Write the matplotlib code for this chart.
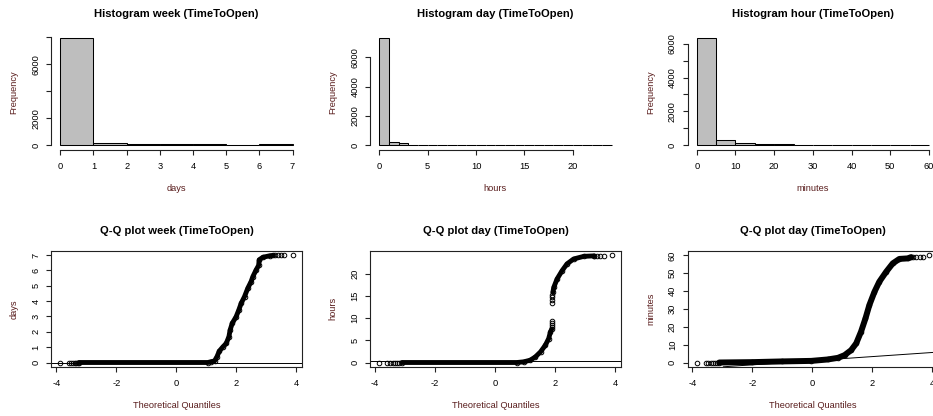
import numpy as np
import matplotlib
matplotlib.use("Agg")
import matplotlib.pyplot as plt

plt.rcParams["font.family"] = ["Liberation Sans", "DejaVu Sans"]
plt.rcParams["axes.unicode_minus"] = False

# ---------------- histogram data ----------------
week_breaks = [0, 1, 2, 3, 4, 5, 6, 7]
week_counts = [7950, 150, 125, 75, 75, 0, 70]

day_breaks = list(range(0, 25))
day_counts = [7300, 200, 140, 50, 50, 50, 6, 4, 3, 0, 0, 0,
              0, 2, 4, 6, 8, 50, 50, 50, 8, 8, 50, 50]

hour_breaks = list(range(0, 65, 5))
hour_counts = [6330, 290, 155, 100, 95, 40, 35, 35, 30, 30, 30, 30]

# ---------------- Q-Q data (theoretical quantile, sample value) ----------------
week_q = [-3.25, 1.05, 1.15, 1.27, 1.35, 1.43, 1.55, 1.66, 1.75, 1.79, 1.86,
          1.99, 2.08, 2.16, 2.27, 2.38, 2.49, 2.55, 2.66, 2.74, 2.76, 2.88, 3.11, 3.22]
week_v = [0.0, 0.0, 0.05, 0.1, 0.37, 0.74, 1.02, 1.24, 1.68, 2.11, 2.55,
          2.98, 3.42, 3.86, 4.29, 4.84, 5.27, 5.6, 6.04, 6.32, 6.69, 6.85, 6.95, 6.97]
week_pts_q = [-3.87, -3.58, -3.50, -3.44, -3.38, -3.33, -3.28,
              3.30, 3.38, 3.47, 3.57, 3.87]
week_pts_v = [0, 0, 0, 0, 0, 0, 0,
              6.97, 6.97, 6.97, 6.97, 7.0]
week_line = (0.0, 0.0)  # intercept, slope

day_q = [-3.1, 0.73, 0.95, 1.17, 1.34, 1.51, 1.67, 1.78, 1.84, 1.88, np.nan,
         1.92, 1.95, 2.06, 2.23, 2.39, 2.61, 2.95, 3.28]
day_v = [0.0, 0.0, 0.15, 0.52, 1.27, 2.39, 3.88, 5.37, 6.87, 7.5, np.nan,
         15.8, 16.9, 18.8, 20.7, 22.2, 23.3, 23.9, 24.0]
day_pts_q = [-3.85, -3.58, -3.48, -3.40, -3.33, -3.27, -3.21,
             1.90, 1.90, 1.90, 1.90, 1.90, 1.90, 1.90, 1.90,
             3.30, 3.40, 3.50, 3.62, 3.87]
day_pts_v = [0, 0, 0, 0, 0, 0, 0,
             8.0, 8.5, 9.0, 9.4, 13.3, 14.0, 14.7, 15.3,
             24.0, 24.0, 24.0, 24.0, 24.2]
day_line = (0.3, 0.0)

min_q = [-3.1, -2.0, -1.0, -0.03, 0.52, 0.86, 1.08, 1.30, 1.47, 1.63, 1.78,
         1.91, 2.08, 2.24, 2.47, 2.69, 2.91, 3.19, 3.3]
min_v = [0.0, 0.2, 0.6, 0.9, 1.7, 2.6, 4.1, 6.9, 10.7, 17.2, 24.7,
         32.2, 39.6, 45.2, 50.8, 55.5, 58.0, 58.3, 59.0]
min_pts_q = [-3.85, -3.55, -3.46, -3.38, -3.31, -3.25, -3.19,
             3.37, 3.48, 3.59, 3.70, 3.90]
min_pts_v = [0, 0, 0, 0, 0, 0, 0,
             59.1, 59.1, 59.1, 59.2, 60.2]
min_line = (1.0, 1.15)

W, H = 933, 416
fig = plt.figure(figsize=(W / 100, H / 100), dpi=100)

LAB_COL = "#5a1e1e"
AX_COL = "#222222"
TICK_FS = 6.7
TITLE_FS = 8.1

col_left = [51.0, 370.0, 687.5]
col_w = 250.8
row_box = [(33.7, 149.7), (250.7, 366.8)]


def make_axes(left, top, right, bottom):
    return fig.add_axes([left / W, 1 - bottom / H, (right - left) / W, (bottom - top) / H])


def decorate(ax, left, top, right, bottom, title, xlabel, ylabel):
    cx = (left + right) / 2
    cy = (top + bottom) / 2
    fig.text(cx / W, 1 - (top - 20) / H, title, ha="center", va="center",
             fontsize=TITLE_FS, fontweight="bold", color="black")
    fig.text(cx / W, 1 - (bottom + 39) / H, xlabel, ha="center", va="center",
             fontsize=TICK_FS, color=LAB_COL)
    fig.text((left - 37) / W, 1 - cy / H, ylabel, ha="center", va="center",
             rotation=90, fontsize=TICK_FS, color=LAB_COL)
    ax.tick_params(direction="out", length=3.6, width=0.8, color=AX_COL,
                   labelsize=TICK_FS, labelcolor="black")
    ax.tick_params(axis="x", pad=5.0)
    ax.tick_params(axis="y", pad=4.0)
    for lbl in ax.get_yticklabels():
        lbl.set_rotation(90)
        lbl.set_va("center")


def histogram(col, breaks, counts, xticks, yticks, ylabels, title, xlabel):
    top, bottom = row_box[0]
    left = col_left[col]
    right = left + col_w
    ax = make_axes(left, top, right, bottom)
    edges = np.asarray(breaks, dtype=float)
    ax.bar(edges[:-1], counts, width=np.diff(edges), align="edge",
           facecolor="#BEBEBE", edgecolor="black", linewidth=0.75)
    span = edges[-1] - edges[0]
    ax.set_xlim(edges[0] - 0.04 * span, edges[-1] + 0.04 * span)
    m = max(counts)
    ax.set_ylim(-0.04 * m, 1.04 * m)
    ax.set_xticks(xticks, [str(t) for t in xticks])
    ax.set_yticks(yticks, ylabels)
    for side in ("top", "right"):
        ax.spines[side].set_visible(False)
    for side in ("left", "bottom"):
        ax.spines[side].set_color(AX_COL)
        ax.spines[side].set_linewidth(0.8)
    ax.spines["left"].set_position(("axes", 0))
    ax.spines["bottom"].set_position(("axes", 0))
    ax.spines["bottom"].set_bounds(xticks[0], xticks[-1])
    ax.spines["left"].set_bounds(yticks[0], yticks[-1])
    ax.patch.set_alpha(0)
    decorate(ax, left, top, right, bottom, title, xlabel, "Frequency")
    return ax


def qqplot(col, q, v, pts_q, pts_v, line, yticks, title, ylabel, band_lw=3.5):
    top, bottom = row_box[1]
    left = col_left[col]
    right = left + col_w
    ax = make_axes(left, top, right, bottom)
    ax.plot(q, v, color="black", linewidth=band_lw, solid_capstyle="round",
            solid_joinstyle="round")
    ax.plot(q, v, linestyle="none", marker="o", markersize=3.3,
            markerfacecolor="none", markeredgecolor="black", markeredgewidth=0.7)
    ax.plot(pts_q, pts_v, linestyle="none", marker="o", markersize=3.3,
            markerfacecolor="none", markeredgecolor="black", markeredgewidth=0.7)
    ax.axline((0, line[0]), slope=line[1], color="black", linewidth=0.7)
    allq = [x for x in list(q) + list(pts_q) if not np.isnan(x)]
    allv = [x for x in list(v) + list(pts_v) if not np.isnan(x)]
    qlo, qhi = min(allq), max(allq)
    vlo, vhi = min(allv), max(allv)
    ax.set_xlim(qlo - 0.04 * (qhi - qlo), qhi + 0.04 * (qhi - qlo))
    ax.set_ylim(vlo - 0.04 * (vhi - vlo), vhi + 0.04 * (vhi - vlo))
    ax.set_xticks([-4, -2, 0, 2, 4], ["-4", "-2", "0", "2", "4"])
    ax.set_yticks(yticks, [str(t) for t in yticks])
    for side in ax.spines.values():
        side.set_color(AX_COL)
        side.set_linewidth(0.8)
    decorate(ax, left, top, right, bottom, title, "Theoretical Quantiles", ylabel)
    return ax


histogram(0, week_breaks, week_counts, [0, 1, 2, 3, 4, 5, 6, 7],
          [0, 2000, 4000, 6000, 8000], ["0", "2000", "", "6000", ""],
          "Histogram week (TimeToOpen)", "days")
histogram(1, day_breaks, day_counts, [0, 5, 10, 15, 20],
          [0, 2000, 4000, 6000], ["0", "2000", "4000", "6000"],
          "Histogram day (TimeToOpen)", "hours")
histogram(2, hour_breaks, hour_counts, [0, 10, 20, 30, 40, 50, 60],
          [0, 1000, 2000, 3000, 4000, 5000, 6000],
          ["0", "", "2000", "", "4000", "", "6000"],
          "Histogram hour (TimeToOpen)", "minutes")

qqplot(0, week_q, week_v, week_pts_q, week_pts_v, week_line,
       [0, 1, 2, 3, 4, 5, 6, 7], "Q-Q plot week (TimeToOpen)", "days")
qqplot(1, day_q, day_v, day_pts_q, day_pts_v, day_line,
       [0, 5, 10, 15, 20], "Q-Q plot day (TimeToOpen)", "hours")
qqplot(2, min_q, min_v, min_pts_q, min_pts_v, min_line,
       [0, 10, 20, 30, 40, 50, 60], "Q-Q plot day (TimeToOpen)", "minutes",
       band_lw=4.3)

fig.savefig("out.png", dpi=100, facecolor="white")
